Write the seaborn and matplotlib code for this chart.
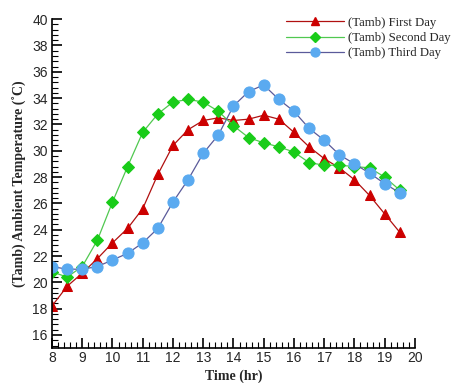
import numpy as np
import pandas as pd
import matplotlib
matplotlib.use('Agg')
import matplotlib.pyplot as plt
import seaborn as sns
from matplotlib.ticker import MultipleLocator
from matplotlib.lines import Line2D

# time of day (hr)
hours = [8, 8.5, 9, 9.5, 10, 10.5, 11, 11.5, 12, 12.5, 13, 13.5,
         14, 14.5, 15, 15.5, 16, 16.5, 17, 17.5, 18, 18.5, 19, 19.5]

# ambient temperature readings (C)
first_day = [18.2, 19.7, 20.7, 21.8, 23.0, 24.1, 25.6, 28.2, 30.4, 31.6, 32.3, 32.5,
             32.3, 32.4, 32.7, 32.4, 31.4, 30.3, 29.4, 28.7, 27.8, 26.6, 25.2, 23.8]
second_day = [20.8, 20.4, 21.2, 23.2, 26.1, 28.8, 31.4, 32.8, 33.7, 33.9, 33.7, 33.0,
              31.9, 31.0, 30.6, 30.3, 29.9, 29.1, 28.9, 28.9, 28.8, 28.7, 28.0, 27.0]
third_day = [21.2, 21.0, 21.0, 21.2, 21.7, 22.2, 23.0, 24.1, 26.1, 27.8, 29.8, 31.2,
             33.4, 34.5, 35.0, 33.9, 33.0, 31.7, 30.8, 29.7, 29.0, 28.3, 27.5, 26.8]

labels = ['(Tamb) First Day', '(Tamb) Second Day', '(Tamb) Third Day']

df = pd.DataFrame({'hr': hours, labels[0]: first_day,
                   labels[1]: second_day, labels[2]: third_day})
long = df.melt(id_vars='hr', var_name='day', value_name='temp')

sns.set_style('white')
plt.rcParams['font.family'] = ['Liberation Sans', 'DejaVu Sans']

line_cols = {labels[0]: '#b01010', labels[1]: '#50c850', labels[2]: '#5a5a9a'}
mark_cols = {labels[0]: '#cc0000', labels[1]: '#19cc19', labels[2]: '#5aaaf0'}
markers = {labels[0]: '^', labels[1]: 'D', labels[2]: 'o'}
msize = {labels[0]: 7, labels[1]: 6.2, labels[2]: 8}

fig = plt.figure(figsize=(4.52, 3.83), dpi=100)
ax = fig.add_axes([0.115, 0.091, 0.803, 0.859])

for lab in labels:
    sub = long[long['day'] == lab]
    sns.lineplot(data=sub, x='hr', y='temp', ax=ax, color=line_cols[lab],
                 linewidth=0.9, marker=markers[lab], markersize=msize[lab],
                 markerfacecolor=mark_cols[lab], markeredgecolor=mark_cols[lab],
                 legend=False)

ax.set_xlim(8, 20)
ax.set_ylim(15, 40)
ax.xaxis.set_major_locator(MultipleLocator(1))
ax.xaxis.set_minor_locator(MultipleLocator(0.2))
ax.yaxis.set_minor_locator(MultipleLocator(0.4))
ax.set_yticks(range(16, 41, 2))
ax.tick_params(which='both', bottom=True, left=True, top=False, right=False)
ax.tick_params(which='major', direction='in', length=7, width=1.2, labelsize=10, color='black')
ax.tick_params(which='minor', direction='in', length=4, width=0.8, color='black')
ax.tick_params(axis='x', pad=2)
ax.tick_params(axis='y', pad=3)
for s in ['top', 'right']:
    ax.spines[s].set_visible(False)
for s in ['left', 'bottom']:
    ax.spines[s].set_color('black')
    ax.spines[s].set_linewidth(1.2)

ax.set_xlabel('Time (hr)', family=['Liberation Serif'], fontweight='bold', fontsize=10, labelpad=3)
ax.set_ylabel('(Tamb) Ambient Temperature (˚C)', family=['Liberation Serif'],
              fontweight='bold', fontsize=10, labelpad=4)

handles = [Line2D([], [], color=line_cols[l], linewidth=0.9, marker=markers[l],
                  markersize=msize[l] * 0.8, markerfacecolor=mark_cols[l],
                  markeredgecolor=mark_cols[l]) for l in labels]
ax.legend(handles, labels, loc='upper right', bbox_to_anchor=(1.12, 1.03),
          frameon=False, handlelength=4.6, labelspacing=0.25, handletextpad=0.3,
          borderaxespad=0.2, prop={'family': 'Liberation Serif', 'size': 9.2})

fig.savefig('out.png', dpi=100)
